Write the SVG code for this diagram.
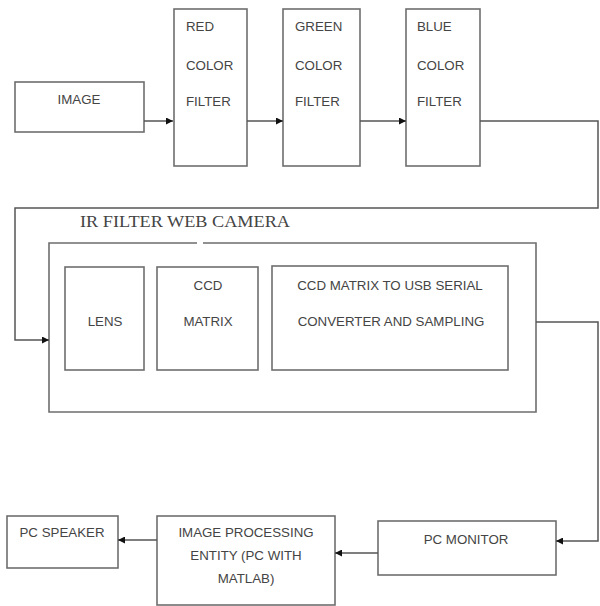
<svg xmlns="http://www.w3.org/2000/svg" width="600" height="606" viewBox="0 0 600 606">
<style>
.box{fill:#fff;stroke:#6e6e6e;stroke-width:1.6}
.t{font-family:"Liberation Sans",Arial,sans-serif;font-size:13.3px;fill:#444}
.c{text-anchor:middle}
.ln{fill:none;stroke:#555;stroke-width:1.5}
</style>
<defs>
<marker id="ah" viewBox="0 0 10 10" refX="10" refY="5" markerWidth="7" markerHeight="7" markerUnits="userSpaceOnUse" orient="auto">
<path d="M0,0 L10,5 L0,10 z" fill="#111"/>
</marker>
</defs>
<rect width="600" height="606" fill="#fff"/>
<g id="image"><rect class="box" x="15" y="82" width="129" height="50"/><text class="t c" x="79" y="104">IMAGE</text></g>
<g id="red"><rect class="box" x="174" y="9" width="73" height="157"/><text class="t" x="186" y="31">RED</text><text class="t" x="186" y="70">COLOR</text><text class="t" x="186" y="106">FILTER</text></g>
<g id="green"><rect class="box" x="283" y="9" width="77" height="157"/><text class="t" x="295" y="31">GREEN</text><text class="t" x="295" y="70">COLOR</text><text class="t" x="295" y="106">FILTER</text></g>
<g id="blue"><rect class="box" x="406" y="9" width="74" height="157"/><text class="t" x="417" y="31">BLUE</text><text class="t" x="417" y="70">COLOR</text><text class="t" x="417" y="106">FILTER</text></g>
<g id="camera">
<text x="185" y="227" text-anchor="middle" font-family="'Liberation Serif','Times New Roman',serif" font-size="16" fill="#444" textLength="210" lengthAdjust="spacingAndGlyphs">IR FILTER WEB CAMERA</text>
<rect x="49" y="243" width="487" height="169" fill="#fff" stroke="none"/>
<path class="ln" style="stroke:#6e6e6e;stroke-width:1.6" d="M197,243 H49 V412 H536 V243 H203"/>
</g>
<g id="lens"><rect class="box" x="65" y="267" width="79" height="103"/><text class="t c" x="105" y="326">LENS</text></g>
<g id="ccd"><rect class="box" x="157" y="267" width="101" height="103"/><text class="t c" x="208" y="290">CCD</text><text class="t c" x="208" y="326">MATRIX</text></g>
<g id="converter"><rect class="box" x="272" y="266" width="236" height="104"/><text class="t c" x="390" y="290">CCD MATRIX TO USB SERIAL</text><text class="t c" x="391" y="326">CONVERTER AND SAMPLING</text></g>
<g id="monitor"><rect class="box" x="378" y="521" width="178" height="54"/><text class="t c" x="466" y="544">PC MONITOR</text></g>
<g id="processing"><rect class="box" x="157" y="516" width="178" height="89"/><text class="t c" x="246" y="537">IMAGE PROCESSING</text><text class="t c" x="246" y="560">ENTITY (PC WITH</text><text class="t c" x="246" y="583">MATLAB)</text></g>
<g id="speaker"><rect class="box" x="7" y="516" width="111" height="52"/><text class="t c" x="62" y="537">PC SPEAKER</text></g>
<g id="connectors">
<path class="ln" d="M144,121 H173" marker-end="url(#ah)"/>
<path class="ln" d="M247,121 H283" marker-end="url(#ah)"/>
<path class="ln" d="M360,121 H406" marker-end="url(#ah)"/>
<path class="ln" d="M480,121 H598 V208 H15 V340 H49" marker-end="url(#ah)"/>
<path class="ln" d="M536,322 H598 V541 H556" marker-end="url(#ah)"/>
<path class="ln" d="M378,553 H335" marker-end="url(#ah)"/>
<path class="ln" d="M157,540 H118" marker-end="url(#ah)"/>
</g>
</svg>
